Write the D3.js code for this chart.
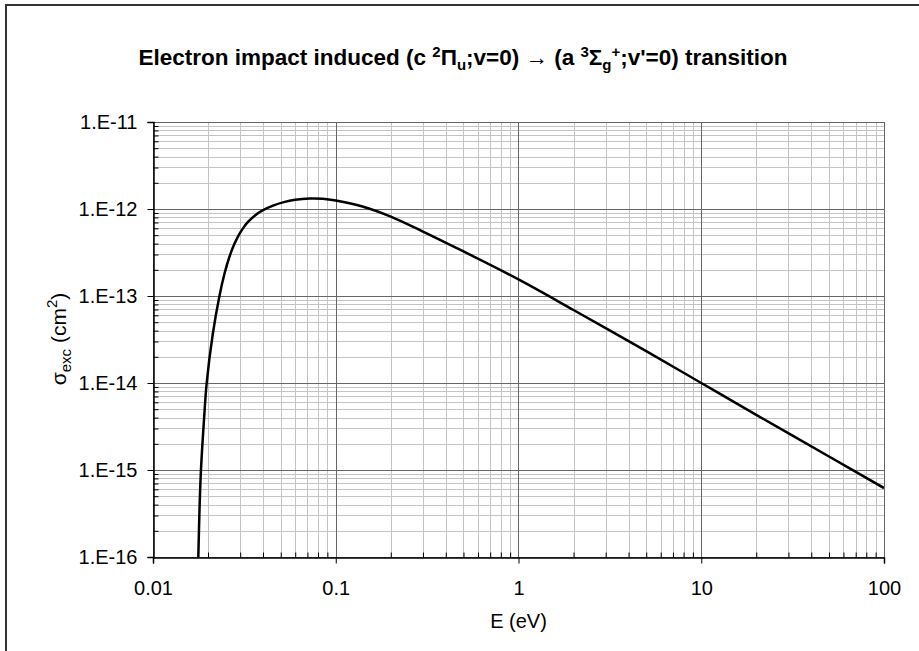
<!DOCTYPE html>
<html>
<head>
<meta charset="utf-8">
<script src="https://cdn.jsdelivr.net/npm/d3@7"></script>
<style>
  body { margin: 0; background: #fff; }
  svg { font-family: "Liberation Sans", Arial, sans-serif; }
</style>
</head>
<body>
<div id="chart"></div>
<script>
// electron energy (eV) and excitation cross section (cm^2)
let energy = [0.0177, 0.0180, 0.0183, 0.0190, 0.01967, 0.0212, 0.0231, 0.02459, 0.02615, 0.02786, 0.02967,
    0.03127, 0.033, 0.03614, 0.040, 0.04535, 0.052, 0.060, 0.072, 0.085, 0.1, 0.14, 0.2, 0.3, 0.5, 1,
    2, 5, 10, 20, 50, 100];
let sigma = [1e-16, 4e-16, 1e-15, 3.7e-15, 1e-14, 3.56e-14, 1e-13, 1.79e-13, 2.79e-13, 3.95e-13, 5.15e-13,
    6.11e-13, 7.05e-13, 8.44e-13, 9.69e-13, 1.094e-12, 1.2e-12, 1.276e-12, 1.32e-12, 1.31e-12, 1.25e-12,
    1.069e-12, 8.18e-13, 5.5e-13, 3.25e-13, 1.55e-13, 6.9e-14, 2.32e-14, 1.0e-14, 4.3e-15, 1.43e-15, 6.2e-16];

let xMajor = [0.01, 0.1, 1, 10, 100];
let xLabels = ["0.01", "0.1", "1", "10", "100"];
let yMajor = [1e-16, 1e-15, 1e-14, 1e-13, 1e-12, 1e-11];
let yLabels = ["1.E-16", "1.E-15", "1.E-14", "1.E-13", "1.E-12", "1.E-11"];

let width = 919, height = 651;
let plot = {left: 153, right: 884, top: 122, bottom: 557};

let svg = d3.select("#chart")
    .append("svg")
    .attr("width", width)
    .attr("height", height);

// outer frame (only the left and top edges are visible)
svg.append("rect")
    .attr("x", 6).attr("y", 5)
    .attr("width", width + 20).attr("height", height + 20)
    .attr("fill", "none")
    .attr("stroke", "#333")
    .attr("stroke-width", 2);

let x = d3.scaleLog()
    .domain([0.01, 100])
    .range([plot.left, plot.right]);

let y = d3.scaleLog()
    .domain([1e-16, 1e-11])
    .range([plot.bottom, plot.top]);

let isMajor = v => Math.abs(Math.log10(v) - Math.round(Math.log10(v))) < 1e-6;
let xMinor = x.ticks().filter(d => !isMajor(d));
let yMinor = y.ticks().filter(d => !isMajor(d));

// minor grid
svg.append("g").selectAll("line")
    .data(xMinor)
    .enter().append("line")
    .attr("x1", d => Math.round(x(d)) + 0.5).attr("x2", d => Math.round(x(d)) + 0.5)
    .attr("y1", plot.top).attr("y2", plot.bottom)
    .attr("stroke", "#c4c4c4");

svg.append("g").selectAll("line")
    .data(yMinor)
    .enter().append("line")
    .attr("y1", d => Math.round(y(d)) + 0.5).attr("y2", d => Math.round(y(d)) + 0.5)
    .attr("x1", plot.left).attr("x2", plot.right)
    .attr("stroke", "#c4c4c4");

// major grid
svg.append("g").selectAll("line")
    .data(xMajor)
    .enter().append("line")
    .attr("x1", d => Math.round(x(d)) + 0.5).attr("x2", d => Math.round(x(d)) + 0.5)
    .attr("y1", plot.top).attr("y2", plot.bottom)
    .attr("stroke", "#666");

svg.append("g").selectAll("line")
    .data(yMajor)
    .enter().append("line")
    .attr("y1", d => Math.round(y(d)) + 0.5).attr("y2", d => Math.round(y(d)) + 0.5)
    .attr("x1", plot.left).attr("x2", plot.right)
    .attr("stroke", "#666");

// axes: major ticks outside, minor ticks inside
let yAxis = d3.axisLeft(y)
    .tickValues(yMajor)
    .tickSize(6)
    .tickPadding(10)
    .tickFormat((d, i) => yLabels[i]);

let yAxisMinor = d3.axisRight(y)
    .tickValues(yMinor)
    .tickSize(5)
    .tickFormat("");

let xAxis = d3.axisBottom(x)
    .tickValues(xMajor)
    .tickSize(6)
    .tickPadding(17)
    .tickFormat((d, i) => xLabels[i]);

let xAxisMinor = d3.axisTop(x)
    .tickValues(xMinor)
    .tickSize(5)
    .tickFormat("");

svg.append("g")
    .attr("transform", `translate(${plot.left + 0.5},0)`)
    .call(yAxis);
svg.append("g")
    .attr("transform", `translate(${plot.left + 0.5},0)`)
    .call(yAxisMinor)
    .select(".domain").remove();

svg.append("g")
    .attr("transform", `translate(0,${plot.bottom + 0.5})`)
    .call(xAxis);
svg.append("g")
    .attr("transform", `translate(0,${plot.bottom + 0.5})`)
    .call(xAxisMinor)
    .select(".domain").remove();

svg.selectAll(".tick line").attr("stroke", "#000");
svg.selectAll(".domain").attr("stroke", "#000").attr("stroke-width", 1.5);
svg.selectAll(".tick text")
    .attr("font-size", "20px")
    .attr("font-family", "Liberation Sans, Arial, sans-serif")
    .attr("fill", "#000");

// curve, clipped to the plot area
svg.append("clipPath")
    .attr("id", "plot-clip")
    .append("rect")
    .attr("x", plot.left).attr("y", plot.top)
    .attr("width", plot.right - plot.left).attr("height", plot.bottom - plot.top);

let points = energy.map((e, i) => [e, sigma[i]]);

let line = d3.line()
    .x(d => x(d[0]))
    .y(d => y(d[1]))
    .curve(d3.curveCatmullRom.alpha(0.5));

svg.append("path")
    .datum(points)
    .attr("clip-path", "url(#plot-clip)")
    .attr("d", line)
    .attr("fill", "none")
    .attr("stroke", "#000")
    .attr("stroke-width", 2.5);

// title
let title = svg.append("text")
    .attr("x", 463)
    .attr("y", 65)
    .attr("text-anchor", "middle")
    .attr("font-size", "22.5px")
    .attr("font-weight", "bold");
title.append("tspan").text("Electron impact induced (c ");
title.append("tspan").attr("font-size", "15px").attr("dy", -8).text("2");
title.append("tspan").attr("dy", 8).text("\u03A0");
title.append("tspan").attr("font-size", "15px").attr("dy", 5).text("u");
title.append("tspan").attr("dy", -5).text(";v=0) \u2192 (a ");
title.append("tspan").attr("font-size", "15px").attr("dy", -8).text("3");
title.append("tspan").attr("dy", 8).text("\u03A3");
title.append("tspan").attr("font-size", "15px").attr("dy", 5).text("g");
title.append("tspan").attr("font-size", "15px").attr("dy", -13).text("+");
title.append("tspan").attr("dy", 8).text(";v'=0) transition");

// axis titles
svg.append("text")
    .attr("x", (plot.left + plot.right) / 2)
    .attr("y", 628)
    .attr("text-anchor", "middle")
    .attr("font-size", "20px")
    .text("E (eV)");

let ylab = svg.append("text")
    .attr("transform", "translate(66,339) rotate(-90)")
    .attr("text-anchor", "middle")
    .attr("font-size", "21px");
ylab.append("tspan").text("\u03C3");
ylab.append("tspan").attr("font-size", "15px").attr("dy", 5).text("exc");
ylab.append("tspan").attr("dy", -5).text(" (cm");
ylab.append("tspan").attr("font-size", "15px").attr("dy", -9).text("2");
ylab.append("tspan").attr("dy", 9).text(")");
</script>
</body>
</html>
